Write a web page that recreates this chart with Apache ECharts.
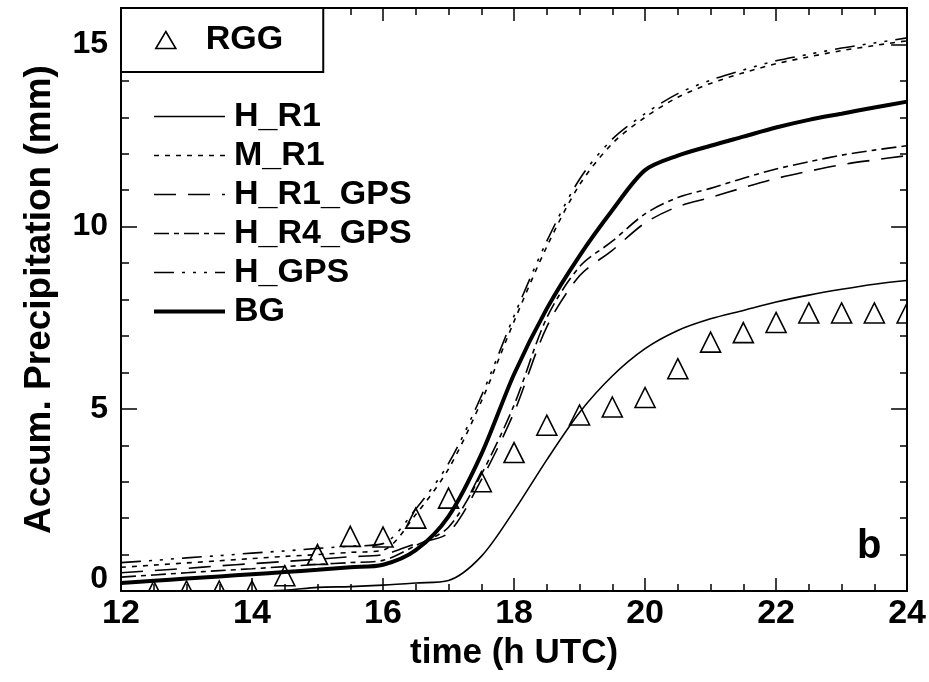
<!DOCTYPE html>
<html><head><meta charset="utf-8">
<script src="https://cdn.jsdelivr.net/npm/echarts@6/dist/echarts.min.js"></script>
<style>html,body{margin:0;padding:0;background:#fff}#c{width:929px;height:682px}</style>
</head><body><div id="c"></div>
<script>
// ---- data ----
const hours   = [12,12.5,13,13.5,14,14.5,15,15.5,16,16.5,17,17.5,18,18.5,19,19.5,20,20.5,21,21.5,22,22.5,23,23.5,24];
const hR1     = [0,0,0,0,0,0.02,0.1,0.12,0.16,0.22,0.29,0.95,2.2,3.6,4.9,5.9,6.65,7.15,7.47,7.7,7.93,8.12,8.28,8.42,8.52];
const mR1     = [0.65,0.71,0.77,0.83,0.89,0.95,1.0,1.06,1.12,2.1,3.35,5.2,7.4,9.45,11.15,12.28,13.0,13.55,13.93,14.22,14.47,14.66,14.83,14.97,15.1];
const hR1GPS  = [0.5,0.56,0.62,0.69,0.75,0.81,0.87,0.94,1.0,1.3,1.6,3.05,4.9,7.25,8.65,9.35,10.1,10.55,10.8,11.07,11.32,11.52,11.7,11.83,11.95];
const hR4GPS  = [0.38,0.44,0.5,0.56,0.61,0.67,0.73,0.78,0.84,1.25,1.75,3.2,5.1,7.5,8.9,9.6,10.35,10.8,11.05,11.33,11.58,11.78,11.96,12.1,12.22];
const hGPS    = [0.78,0.84,0.91,0.97,1.04,1.1,1.17,1.23,1.3,2.25,3.5,5.35,7.55,9.6,11.3,12.4,13.1,13.65,14.02,14.3,14.55,14.73,14.9,15.04,15.18];
const bg      = [0.22,0.28,0.34,0.4,0.46,0.52,0.58,0.65,0.72,1.12,2.05,3.75,5.95,7.75,9.2,10.45,11.55,11.95,12.22,12.47,12.72,12.93,13.1,13.27,13.43];
const rggHours = [12.5,13,13.5,14,14.5,15,15.5,16,16.5,17,17.5,18,18.5,19,19.5,20,20.5,21,21.5,22,22.5,23,23.5,24];
const rgg      = [0,0,0,0,0.42,1.0,1.5,1.48,2.0,2.55,3.0,3.8,4.55,4.83,5.05,5.31,6.1,6.83,7.09,7.37,7.63,7.63,7.63,7.63];
const xTickLabels = [12,14,16,18,20,22,24];
const yTickLabels = [0,5,10,15];
const xRange = [12, 24];
const yRange = [0, 16];

// ---- chart ----
const FONT = "'Liberation Sans', Arial, Helvetica, sans-serif";
const chart = echarts.init(document.getElementById('c'), null, {renderer: 'canvas'});
const pair = (xs, ys) => xs.map((x, i) => [x, ys[i]]);
const xInt = xTickLabels[1] - xTickLabels[0];
const yInt = yTickLabels[1] - yTickLabels[0];
const bold = (size) => ({color: '#000', fontSize: size, fontWeight: 'bold', fontFamily: FONT});

const styles = {
  'H_R1':     {dash: 'solid', width: 1.6},
  'M_R1':     {dash: [5, 6], width: 1.6},
  'H_R1_GPS': {dash: [22, 12], width: 1.6},
  'H_R4_GPS': {dash: [15, 5, 5, 5], width: 1.6},
  'H_GPS':    {dash: [20, 8, 3, 8, 3, 8, 3, 8], width: 1.6},
  'BG':       {dash: 'solid', width: 4}
};

function lineSeries(name, ys) {
  const s = styles[name];
  return {
    name, type: 'line', xAxisIndex: 0, yAxisIndex: 0,
    data: pair(hours, ys), symbol: 'none', showSymbol: false,
    smooth: 0.3, clip: true,
    lineStyle: {color: '#000', width: s.width, type: s.dash, cap: 'butt'},
    itemStyle: {color: '#000'}, z: 3, animation: false
  };
}

const gridRect = {left: 121, right: 21, top: 8, bottom: 91};
const tickStyle = {color: '#000', width: 1.5};
const axisLineStyle = {color: '#000', width: 2};
const lineNames = ['H_R1', 'M_R1', 'H_R1_GPS', 'H_R4_GPS', 'H_GPS', 'BG'];

const option = {
  backgroundColor: '#fff',
  animation: false,
  grid: [Object.assign({show: false}, gridRect), Object.assign({show: false}, gridRect)],
  xAxis: [
    {gridIndex: 0, type: 'value', position: 'bottom', min: xRange[0], max: xRange[1], interval: xInt,
     axisLine: {show: true, onZero: false, lineStyle: axisLineStyle},
     axisTick: {show: true, inside: true, length: 13, lineStyle: tickStyle},
     minorTick: {show: true, splitNumber: 4, length: 7, lineStyle: tickStyle},
     splitLine: {show: false},
     axisLabel: Object.assign({margin: 6}, bold(34)),
     name: 'time (h UTC)', nameLocation: 'middle', nameGap: 41,
     nameTextStyle: bold(35)},
    {gridIndex: 0, type: 'value', position: 'top', min: xRange[0], max: xRange[1], interval: xInt,
     axisLine: {show: true, onZero: false, lineStyle: axisLineStyle},
     axisTick: {show: true, inside: true, length: 13, lineStyle: tickStyle},
     minorTick: {show: true, splitNumber: 4, length: 7, lineStyle: tickStyle},
     splitLine: {show: false}, axisLabel: {show: false}},
    {gridIndex: 1, type: 'value', min: xRange[0], max: xRange[1], show: false}
  ],
  yAxis: [
    {gridIndex: 0, type: 'value', position: 'left', min: yRange[0], max: yRange[1], interval: yInt,
     axisLine: {show: true, onZero: false, lineStyle: axisLineStyle},
     axisTick: {show: true, inside: true, length: 16, lineStyle: tickStyle},
     splitLine: {show: false},
     axisLabel: Object.assign({margin: 13,
       formatter: v => (yTickLabels.indexOf(v) < 0 ? '' : (v === 0 ? '{z|0}' : String(v))),
       rich: {z: Object.assign({padding: [0, 0, 24, 0]}, bold(32))}}, bold(32)),
     name: 'Accum. Precipitation (mm)', nameLocation: 'middle', nameGap: 63,
     nameTextStyle: bold(37)},
    {gridIndex: 0, type: 'value', position: 'right', min: yRange[0], max: yRange[1], interval: yInt,
     axisLine: {show: true, onZero: false, lineStyle: axisLineStyle},
     axisTick: {show: true, inside: true, length: 16, lineStyle: tickStyle},
     splitLine: {show: false}, axisLabel: {show: false}},
    {gridIndex: 1, type: 'value', position: 'left', min: yRange[0], max: yRange[1], interval: 1,
     axisLine: {show: false},
     axisTick: {show: true, inside: true, length: 8, lineStyle: tickStyle},
     splitLine: {show: false}, axisLabel: {show: false}},
    {gridIndex: 1, type: 'value', position: 'right', min: yRange[0], max: yRange[1], interval: 1,
     axisLine: {show: false},
     axisTick: {show: true, inside: true, length: 8, lineStyle: tickStyle},
     splitLine: {show: false}, axisLabel: {show: false}}
  ],
  legend: [
    {data: [{name: 'RGG', icon: 'path://M10,0 L20,17 L0,17 Z'}],
     left: 121, top: 8, orient: 'vertical', padding: [15, 40, 15, 34],
     borderColor: '#000', borderWidth: 2, backgroundColor: '#fff',
     itemWidth: 20, itemHeight: 17, selectedMode: false,
     itemStyle: {color: 'transparent', borderColor: '#000', borderWidth: 1.6},
     textStyle: Object.assign({lineHeight: 32, padding: [0, 0, 0, 25]}, bold(34))},
    {data: lineNames.map(n => ({name: n,
        lineStyle: {color: '#000', width: styles[n].width, type: styles[n].dash, cap: 'butt'}})),
     left: 152, top: 97, orient: 'vertical', padding: 0, itemGap: 0,
     itemWidth: 71, itemHeight: 14, selectedMode: false,
     itemStyle: {color: 'rgba(0,0,0,0)', borderColor: 'rgba(0,0,0,0)', borderWidth: 0},
     textStyle: Object.assign({lineHeight: 39, padding: [0, 0, 0, 4]}, bold(34))}
  ],
  graphic: [
    {type: 'text', left: 857, top: 527, z: 10,
     style: Object.assign({text: 'b', fill: '#000', font: "bold 40px " + FONT})}
  ],
  series: [
    {name: 'RGG', type: 'custom', xAxisIndex: 0, yAxisIndex: 0, clip: true, z: 4,
     data: pair(rggHours, rgg),
     itemStyle: {color: 'transparent', borderColor: '#000', borderWidth: 1.6},
     renderItem: function (params, api) {
       const p = api.coord([api.value(0), api.value(1)]);
       const w = 20, h = 20;
       return {type: 'polygon',
         shape: {points: [[p[0], p[1] - h / 2], [p[0] + w / 2, p[1] + h / 2], [p[0] - w / 2, p[1] + h / 2]]},
         style: {fill: 'none', stroke: '#000', lineWidth: 1.6}};
     }},
    lineSeries('H_R1', hR1),
    lineSeries('M_R1', mR1),
    lineSeries('H_R1_GPS', hR1GPS),
    lineSeries('H_R4_GPS', hR4GPS),
    lineSeries('H_GPS', hGPS),
    lineSeries('BG', bg)
  ]
};
chart.setOption(option);
</script>
</body></html>
